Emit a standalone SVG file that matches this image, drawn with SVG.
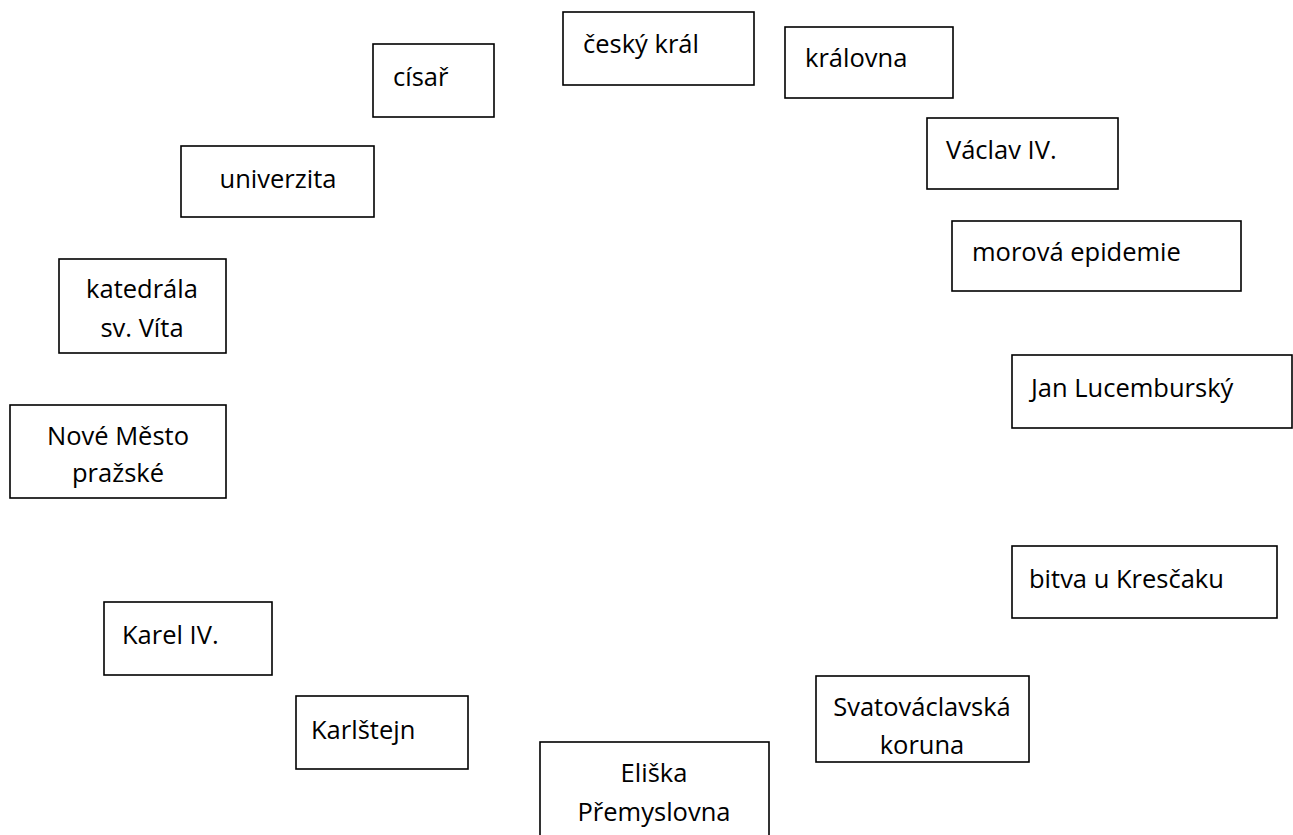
<svg xmlns="http://www.w3.org/2000/svg" width="1293" height="835" viewBox="0 0 1293 835">
<style>
rect.box{fill:#fff;stroke:#000;stroke-width:1.6}
text{font-family:"Open Sans",Lato,"Liberation Sans",sans-serif;font-size:25.5px;fill:#000}
.c{text-anchor:middle}
</style>
<rect width="1293" height="835" fill="#fff"/>
<g id="connectors"/>
<g id="n-cisar"><rect class="box" x="373" y="44" width="121" height="73"/><text x="393" y="86">císař</text></g>
<g id="n-cesky-kral"><rect class="box" x="563" y="12" width="191" height="73"/><text x="583" y="53">český král</text></g>
<g id="n-kralovna"><rect class="box" x="785" y="27" width="168" height="71"/><text x="805" y="67">královna</text></g>
<g id="n-vaclav"><rect class="box" x="927" y="118" width="191" height="71"/><text x="946" y="159">Václav IV.</text></g>
<g id="n-mor"><rect class="box" x="952" y="221" width="289" height="70"/><text x="972" y="261">morová epidemie</text></g>
<g id="n-jan"><rect class="box" x="1012" y="355" width="280" height="73"/><text x="1031" y="397">Jan Lucemburský</text></g>
<g id="n-bitva"><rect class="box" x="1012" y="546" width="265" height="72"/><text x="1029" y="588">bitva u Kresčaku</text></g>
<g id="n-koruna"><rect class="box" x="816" y="676" width="213" height="86"/><text class="c" x="922" y="716">Svatováclavská</text><text class="c" x="922" y="754">koruna</text></g>
<g id="n-eliska"><rect class="box" x="540" y="742" width="229" height="100"/><text class="c" x="654" y="782">Eliška</text><text class="c" x="654" y="821">Přemyslovna</text></g>
<g id="n-karlstejn"><rect class="box" x="296" y="696" width="172" height="73"/><text x="311" y="739">Karlštejn</text></g>
<g id="n-karel"><rect class="box" x="104" y="602" width="168" height="73"/><text x="122" y="644">Karel IV.</text></g>
<g id="n-nove-mesto"><rect class="box" x="10" y="405" width="216" height="93"/><text class="c" x="118" y="445">Nové Město</text><text class="c" x="118" y="482">pražské</text></g>
<g id="n-katedrala"><rect class="box" x="59" y="259" width="167" height="94"/><text class="c" x="142" y="298">katedrála</text><text class="c" x="142" y="337">sv. Víta</text></g>
<g id="n-univerzita"><rect class="box" x="181" y="146" width="193" height="71"/><text class="c" x="278" y="188">univerzita</text></g>
</svg>
